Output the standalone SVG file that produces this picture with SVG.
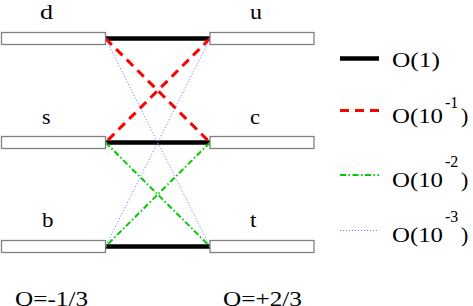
<svg xmlns="http://www.w3.org/2000/svg" width="473" height="306" viewBox="0 0 473 306">
<style>
.box{fill:#fff;stroke:#808080;stroke-width:1.3}
text{font-family:'Liberation Serif','DejaVu Serif',serif;font-size:22px;fill:#000}
.sup{font-size:16px}
.o1{stroke:#000;stroke-width:4.5;fill:none}
.o2{stroke:#ff0000;stroke-width:3;stroke-dasharray:9 6;fill:none}
.o3{stroke:#00cc00;stroke-width:2;stroke-dasharray:6 2.5 1.5 2.5;fill:none}
.o4{stroke:#7070ff;stroke-width:1;stroke-dasharray:1 2;fill:none}
</style>
<rect width="473" height="306" fill="#fff"/>
<g id="connectors">
<line class="o1" x1="105.5" y1="38.5" x2="210" y2="38.5"/>
<line class="o1" x1="105.5" y1="142.5" x2="210" y2="142.5"/>
<line class="o1" x1="105.5" y1="246.5" x2="210" y2="246.5"/>
<line class="o2" x1="105.5" y1="38.5" x2="210" y2="142.5"/>
<line class="o2" x1="210" y1="38.5" x2="105.5" y2="142.5"/>
<line class="o3" x1="105.5" y1="142.5" x2="210" y2="246.5"/>
<line class="o3" x1="210" y1="142.5" x2="105.5" y2="246.5"/>
<line class="o4" x1="105.5" y1="38.5" x2="210" y2="246.5"/>
<line class="o4" x1="210" y1="38.5" x2="105.5" y2="246.5"/>
</g>
<g id="d"><rect class="box" x="1.5" y="32.5" width="104" height="12"/><text x="40" y="19" textLength="13" lengthAdjust="spacingAndGlyphs">d</text></g>
<g id="s"><rect class="box" x="1.5" y="136.5" width="104" height="12"/><text x="42" y="124" textLength="8.5" lengthAdjust="spacingAndGlyphs">s</text></g>
<g id="b"><rect class="box" x="1.5" y="240.5" width="104" height="12"/><text x="42" y="227" textLength="11.5" lengthAdjust="spacingAndGlyphs">b</text></g>
<g id="u"><rect class="box" x="210" y="32.5" width="104" height="12"/><text x="250" y="19" textLength="12" lengthAdjust="spacingAndGlyphs">u</text></g>
<g id="c"><rect class="box" x="210" y="136.5" width="104" height="12"/><text x="250" y="124" textLength="10" lengthAdjust="spacingAndGlyphs">c</text></g>
<g id="tq"><rect class="box" x="210" y="240.5" width="104" height="12"/><text x="250" y="227" textLength="6.5" lengthAdjust="spacingAndGlyphs">t</text></g>
<g id="charges">
<text x="15" y="306" textLength="73" lengthAdjust="spacingAndGlyphs">Q=-1/3</text>
<text x="223" y="306" textLength="79" lengthAdjust="spacingAndGlyphs">Q=+2/3</text>
</g>
<g id="legend">
<line class="o1" x1="340" y1="58.5" x2="379" y2="58.5"/>
<text x="392" y="67" textLength="48" lengthAdjust="spacingAndGlyphs">O(1)</text>
<line class="o2" x1="340" y1="110.5" x2="379" y2="110.5"/>
<text x="392" y="123"><tspan textLength="51" lengthAdjust="spacingAndGlyphs">O(10</tspan><tspan class="sup" x="445" y="108">-1</tspan><tspan x="461" y="123">)</tspan></text>
<line class="o3" x1="340" y1="175" x2="379" y2="175"/>
<text x="392" y="187"><tspan textLength="51" lengthAdjust="spacingAndGlyphs">O(10</tspan><tspan class="sup" x="445" y="167">-2</tspan><tspan x="461" y="187">)</tspan></text>
<line class="o4" x1="340" y1="230.5" x2="379" y2="230.5"/>
<text x="392" y="242"><tspan textLength="51" lengthAdjust="spacingAndGlyphs">O(10</tspan><tspan class="sup" x="445" y="222">-3</tspan><tspan x="461" y="242">)</tspan></text>
</g>
</svg>
